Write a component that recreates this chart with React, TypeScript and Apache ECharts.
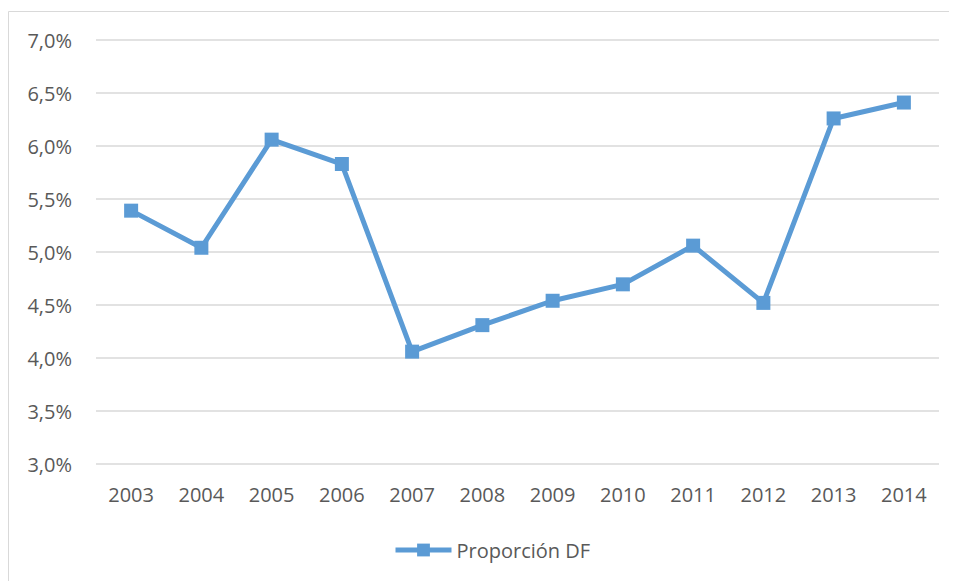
import React, { useEffect, useRef } from "react";
import * as echarts from "echarts";

const years = ["2003", "2004", "2005", "2006", "2007", "2008", "2009", "2010", "2011", "2012", "2013", "2014"];
const proporcionDF = [5.39, 5.04, 6.06, 5.83, 4.06, 4.31, 4.54, 4.695, 5.06, 4.52, 6.26, 6.41];
const seriesName = "Proporción DF";

const FONT = "'Open Sans', 'Noto Sans', sans-serif";
const TEXT = "#595959";
const BLUE = "#5B9BD5";

export default function App() {
  const ref = useRef<HTMLDivElement>(null);
  useEffect(() => {
    if (!ref.current) return;
    const chart = echarts.init(ref.current, undefined, { renderer: "svg" });
    chart.setOption({
      animation: false,
      grid: { left: 88, top: 32, width: 843, height: 424, containLabel: false },
      graphic: [
        { type: "line", shape: { x1: 0.5, y1: 3.5, x2: 960, y2: 3.5 }, style: { stroke: "#D9D9D9", lineWidth: 1 } },
        { type: "line", shape: { x1: 0.5, y1: 3.5, x2: 0.5, y2: 600 }, style: { stroke: "#D9D9D9", lineWidth: 1 } },
      ],
      legend: {
        data: [seriesName],
        left: 385,
        top: 532,
        padding: 0,
        itemWidth: 56,
        itemHeight: 16,
        itemStyle: { color: BLUE },
        lineStyle: { color: BLUE, width: 5 },
        textStyle: { color: TEXT, fontFamily: FONT, fontSize: 20 },
      },
      xAxis: {
        type: "category",
        data: years,
        boundaryGap: true,
        axisLine: { show: false },
        axisTick: { show: false },
        axisLabel: { color: TEXT, fontFamily: FONT, fontSize: 20, margin: 20 },
      },
      yAxis: {
        type: "value",
        min: 3,
        max: 7,
        interval: 0.5,
        axisLine: { show: false },
        axisTick: { show: false },
        splitLine: { lineStyle: { color: "#D9D9D9", width: 1.5 } },
        axisLabel: {
          color: TEXT,
          fontFamily: FONT,
          fontSize: 20,
          margin: 24,
          formatter: (v: number) => v.toFixed(1).replace(".", ",") + "%",
        },
      },
      series: [
        {
          name: seriesName,
          type: "line",
          data: proporcionDF,
          symbol: "rect",
          symbolSize: 14,
          itemStyle: { color: BLUE },
          lineStyle: { color: BLUE, width: 5 },
        },
      ],
    });
    return () => chart.dispose();
  }, []);
  return <div ref={ref} style={{ width: 948, height: 573 }} />;
}
